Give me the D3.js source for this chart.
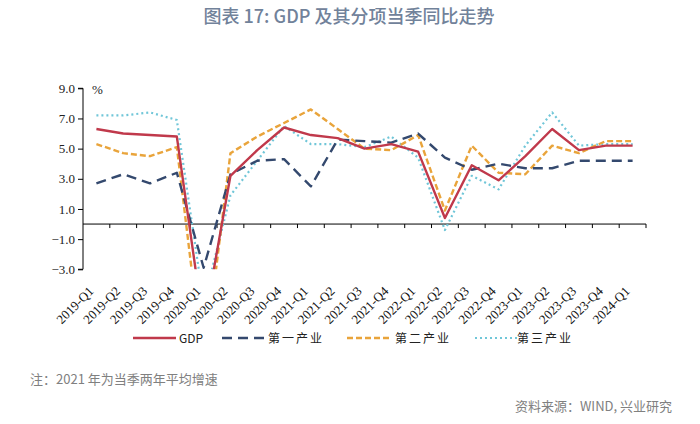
<!DOCTYPE html>
<html>
<head>
<meta charset="utf-8">
<script src="https://cdn.jsdelivr.net/npm/d3@7"></script>
<style>
  html, body { margin: 0; padding: 0; background: #fff; }
  svg { display: block; }
</style>
</head>
<body>
<svg id="chart" width="700" height="424"></svg>
<script>
const categories = ["2019-Q1","2019-Q2","2019-Q3","2019-Q4","2020-Q1","2020-Q2","2020-Q3","2020-Q4",
  "2021-Q1","2021-Q2","2021-Q3","2021-Q4","2022-Q1","2022-Q2","2022-Q3","2022-Q4",
  "2023-Q1","2023-Q2","2023-Q3","2023-Q4","2024-Q1"];
const gdp       = [6.3, 6.0, 5.9, 5.8, -6.8, 3.2, 4.9, 6.4, 5.9, 5.7, 5.0, 5.3, 4.8, 0.4, 3.9, 2.9, 4.5, 6.3, 4.9, 5.2, 5.2];
const primary   = [2.7, 3.3, 2.7, 3.4, -2.9, 3.3, 4.2, 4.3, 2.5, 5.6, 5.5, 5.4, 6.0, 4.4, 3.6, 4.0, 3.7, 3.7, 4.2, 4.2, 4.2];
const secondary = [5.3, 4.7, 4.5, 5.1, -9.6, 4.7, 5.8, 6.7, 7.6, 6.3, 5.0, 4.9, 5.9, 0.9, 5.2, 3.4, 3.3, 5.2, 4.7, 5.5, 5.5];
const tertiary  = [7.2, 7.2, 7.4, 6.9, -5.2, 1.9, 4.2, 6.5, 5.3, 5.3, 5.1, 5.8, 4.4, -0.4, 3.2, 2.3, 5.2, 7.4, 5.2, 5.3, 5.3];
const yTicks = [9.0, 7.0, 5.0, 3.0, 1.0, -1.0, -3.0];
const seriesNames = ["GDP", "第一产业", "第二产业", "第三产业"];

const SERIF = "'Liberation Serif', 'Times New Roman', serif";
const SANS = "'Noto Sans CJK SC', sans-serif";

const svg = d3.select("#chart");
const L = 83, R = 646, T = 88.3, B = 269.3;

const x = d3.scaleBand().domain(categories).range([L, R]).padding(0);
const y = d3.scaleLinear().domain([-3, 9]).range([B, T]);

// title
svg.append("text").attr("x", 349).attr("y", 23).attr("text-anchor", "middle")
  .style("font-family", SANS).style("font-size", "18px")
  .style("font-weight", "500").attr("fill", "#71829a")
  .text("图表 17: GDP 及其分项当季同比走势");

// y axis
const yAxis = d3.axisLeft(y).tickValues(yTicks).tickSize(5).tickPadding(3)
  .tickFormat(d3.format(".1f"));
const gy = svg.append("g").attr("transform", `translate(${L},0)`).call(yAxis);
gy.select(".domain").attr("stroke", "#000").attr("d", `M-5,${y(9)}H0V${y(-3)}H-5`);
gy.selectAll(".tick line").attr("stroke", "#000");
gy.selectAll(".tick text").style("font-family", SERIF)
  .style("font-size", "13px").attr("fill", "#222");

svg.append("text").attr("x", 92).attr("y", 94).style("font-family", SERIF)
  .style("font-size", "13px").attr("fill", "#222").text("%");

// x axis at zero
const boundaries = categories.map(c => x(c) + x.bandwidth());
const gx = svg.append("g");
gx.append("line").attr("x1", L).attr("x2", R).attr("y1", y(0)).attr("y2", y(0))
  .attr("stroke", "#000").attr("stroke-width", 1);
gx.selectAll("line.tk").data(boundaries).join("line").attr("class", "tk")
  .attr("x1", d => d).attr("x2", d => d).attr("y1", y(0)).attr("y2", y(0) + 4)
  .attr("stroke", "#000");

// x labels
svg.append("g").selectAll("text").data(categories).join("text")
  .attr("transform", d => `translate(${x(d) + x.bandwidth() / 2 - 2},${292}) rotate(-45)`)
  .attr("text-anchor", "end").style("font-family", SERIF)
  .style("font-size", "13px").attr("fill", "#111").text(d => d);

// clip
svg.append("clipPath").attr("id", "plot").append("rect")
  .attr("x", L).attr("y", 60).attr("width", R - L + 10).attr("height", B - 60);

const styles = [
  { data: gdp, color: "#c0394b", width: 2.4, dash: null },
  { data: primary, color: "#34496e", width: 2.4, dash: "10,6" },
  { data: secondary, color: "#e9a43b", width: 2.4, dash: "6,3" },
  { data: tertiary, color: "#70c6d8", width: 2.2, dash: "2,3" }
];

const line = d3.line().x((d, i) => x(categories[i]) + x.bandwidth() / 2).y(d => y(d));
const gl = svg.append("g").attr("clip-path", "url(#plot)");
[3, 2, 1, 0].forEach(k => {
  const s = styles[k];
  gl.append("path").datum(s.data).attr("d", line).attr("fill", "none")
    .attr("stroke", s.color).attr("stroke-width", s.width)
    .attr("stroke-dasharray", s.dash).attr("stroke-linejoin", "round");
});

// legend
const legendPos = [[133, 179], [222, 268], [347, 395], [475, 517]];
const lg = svg.append("g");
seriesNames.forEach((n, k) => {
  const s = styles[k];
  const [lx, tx] = legendPos[k];
  lg.append("line").attr("x1", lx).attr("x2", lx + 43).attr("y1", 338).attr("y2", 338)
    .attr("stroke", s.color).attr("stroke-width", s.width).attr("stroke-dasharray", s.dash);
  lg.append("text").attr("x", tx).attr("y", 342.5)
    .style("font-family", SANS).style("font-size", "12px")
    .style("letter-spacing", k === 0 ? "0px" : "2px")
    .attr("fill", "#222").text(n);
});

// notes
svg.append("text").attr("x", 30).attr("y", 384)
  .style("font-family", SANS).style("font-size", "13px")
  .attr("fill", "#808080").text("注：2021 年为当季两年平均增速");
svg.append("text").attr("x", 672).attr("y", 411).attr("text-anchor", "end")
  .style("font-family", SANS).style("font-size", "13px")
  .attr("fill", "#808080").text("资料来源：WIND, 兴业研究");
</script>
</body>
</html>
